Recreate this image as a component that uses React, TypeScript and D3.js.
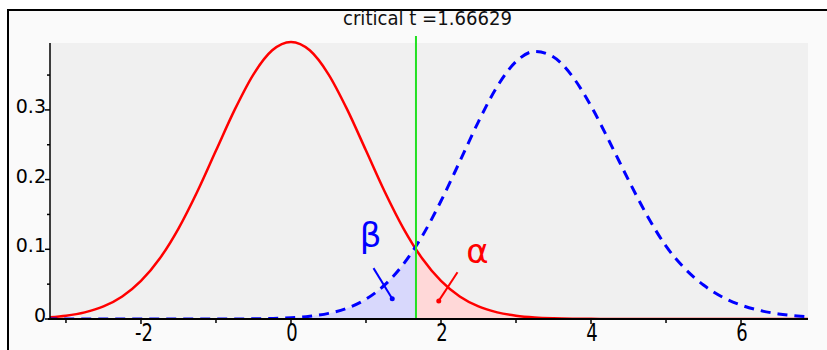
import React from 'react';
import * as d3 from 'd3';

// density values, on a 0.25 grid
const xGrid = [
  -3.25, -3, -2.75, -2.5, -2.25, -2, -1.75, -1.5, -1.25, -1, -0.75, -0.5, -0.25, 0,
  0.25, 0.5, 0.75, 1, 1.25, 1.5, 1.75, 2, 2.25, 2.5, 2.75, 3, 3.25, 3.5,
  3.75, 4, 4.25, 4.5, 4.75, 5, 5.25, 5.5, 5.75, 6, 6.25, 6.5, 6.75, 7,
];
const nullDensity = [
  0.0022, 0.0047, 0.0095, 0.018, 0.0323, 0.0546, 0.0868, 0.1298, 0.1826, 0.2417, 0.3004, 0.3511, 0.3855, 0.3975,
  0.3855, 0.3511, 0.3004, 0.2417, 0.1826, 0.1298, 0.0868, 0.0546, 0.0323, 0.018, 0.0095, 0.0047, 0.0022, 0.001,
  0.0004, 0.0002, 0.0001, 0, 0, 0, 0, 0, 0, 0, 0, 0, 0, 0,
];
const altDensity = [
  0, 0, 0, 0, 0, 0, 0, 0, 0, 0, 0.0001, 0.0003, 0.0008, 0.0018,
  0.0039, 0.0081, 0.0156, 0.0285, 0.0489, 0.0788, 0.1191, 0.1693, 0.2259, 0.2833, 0.3337, 0.3693, 0.3838, 0.3759,
  0.3484, 0.3056, 0.2536, 0.1993, 0.1481, 0.1045, 0.0725, 0.0487, 0.0316, 0.02, 0.0123, 0.0073, 0.0043, 0.0025,
];
const criticalT = 1.66629;
const title = 'critical t =1.66629';

const xMajorTicks = [-2, 0, 2, 4, 6];
const xTickLabels = ['-2', '0', '2', '4', '6'];
const xMinorTicks = [-3, -1, 1, 3, 5];
const yMajorTicks = [0, 0.1, 0.2, 0.3];
const yTickLabels = ['0', '0.1', '0.2', '0.3'];
const yMinorTicks = [0.05, 0.15, 0.25, 0.35];

export default function App() {
  const width = 827;
  const height = 350;
  const plot = { left: 50, right: 808, top: 43, bottom: 319 };
  const font = '"DejaVu Sans", sans-serif';

  const x = d3.scaleLinear().domain([-3.213, 6.893]).range([plot.left, plot.right]);
  const y = d3.scaleLinear().domain([0, 0.396]).range([plot.bottom, plot.top]);

  const pts = (vals: number[]) => xGrid.map((v, i) => [v, vals[i]] as [number, number]);

  const line = d3.line<[number, number]>()
    .x(d => x(d[0]))
    .y(d => y(d[1]))
    .curve(d3.curveMonotoneX);
  const area = d3.area<[number, number]>()
    .x(d => x(d[0]))
    .y0(y(0))
    .y1(d => y(d[1]))
    .curve(d3.curveMonotoneX);

  const xc = x(criticalT);

  return (
    <svg width={width} height={height} style={{ position: 'absolute', left: 0, top: 0 }}>
      <defs>
        <clipPath id="plotClip">
          <rect x={plot.left} y={0} width={plot.right - plot.left} height={plot.bottom} />
        </clipPath>
        <clipPath id="betaClip">
          <rect x={plot.left} y={0} width={xc - plot.left} height={plot.bottom} />
        </clipPath>
        <clipPath id="alphaClip">
          <rect x={xc} y={0} width={plot.right - xc} height={plot.bottom} />
        </clipPath>
      </defs>

      <rect x={0} y={0} width={width} height={height} fill="#ffffff" />
      <rect x={8} y={10} width={width} height={height} fill="#fafafa" />
      <line x1={8} y1={10} x2={width} y2={10} stroke="#000" strokeWidth={2} />
      <line x1={8} y1={9} x2={8} y2={height} stroke="#000" strokeWidth={2} />

      <text x={343} y={25} textLength={169} lengthAdjust="spacingAndGlyphs" fontFamily={font} fontSize={19} fill="#111">
        {title}
      </text>

      <rect x={plot.left} y={plot.top} width={plot.right - plot.left} height={plot.bottom - plot.top} fill="#f0f0f0" />

      <path d={area(pts(altDensity)) || ''} fill="#d8d8fc" clipPath="url(#betaClip)" />
      <path d={area(pts(nullDensity)) || ''} fill="#ffd8d8" clipPath="url(#alphaClip)" />

      <g clipPath="url(#plotClip)" fill="none">
        <path d={line(pts(nullDensity)) || ''} stroke="#ff0000" strokeWidth={2.5} />
        <path d={line(pts(altDensity)) || ''} stroke="#0000ff" strokeWidth={3} strokeDasharray="10,7" />
      </g>

      <line x1={xc} y1={36} x2={xc} y2={plot.bottom} stroke="#22e022" strokeWidth={2} />

      {/* annotations */}
      <text x={x(1.06)} y={y(0.1033)} textAnchor="middle" fontFamily={font} fontSize={34} fill="#0000ff">β</text>
      <line x1={x(1.1)} y1={y(0.073)} x2={x(1.35)} y2={y(0.029)} stroke="#0000ff" strokeWidth={2} />
      <circle cx={x(1.35)} cy={y(0.029)} r={2.5} fill="#0000ff" />
      <text x={x(2.487)} y={y(0.0804)} textAnchor="middle" fontFamily={font} fontSize={34} fill="#ff0000">α</text>
      <line x1={x(2.22)} y1={y(0.067)} x2={x(1.97)} y2={y(0.026)} stroke="#ff0000" strokeWidth={2} />
      <circle cx={x(1.97)} cy={y(0.026)} r={2.5} fill="#ff0000" />

      {/* axes */}
      <line x1={plot.left - 2} y1={plot.bottom} x2={plot.right} y2={plot.bottom} stroke="#000" strokeWidth={2} />
      <line x1={plot.left} y1={plot.top} x2={plot.left} y2={plot.bottom} stroke="#000" strokeWidth={1.5} />

      {xMinorTicks.map(t => (
        <line key={'xm' + t} x1={x(t)} y1={plot.bottom} x2={x(t)} y2={plot.bottom + 4} stroke="#000" strokeWidth={1.5} />
      ))}
      {xMajorTicks.map((t, i) => (
        <g key={'xM' + t}>
          <line x1={x(t)} y1={plot.bottom} x2={x(t)} y2={plot.bottom + 5} stroke="#000" strokeWidth={1.5} />
          <text
            transform={`translate(${x(t) + (t < 0 ? 3 : 1)},${plot.bottom + 22}) scale(1,1.38)`}
            textAnchor="middle"
            fontFamily={font}
            fontSize={18}
            fill="#000"
          >
            {xTickLabels[i]}
          </text>
        </g>
      ))}

      {yMinorTicks.map(t => (
        <line key={'ym' + t} x1={plot.left - 3} y1={y(t)} x2={plot.left} y2={y(t)} stroke="#000" strokeWidth={1.5} />
      ))}
      {yMajorTicks.map((t, i) => (
        <g key={'yM' + t}>
          <line x1={plot.left - 5} y1={y(t)} x2={plot.left} y2={y(t)} stroke="#000" strokeWidth={1.5} />
          <text x={plot.left - 4} y={y(t) + 3} textAnchor="end" fontFamily={font} fontSize={19} fill="#000">
            {yTickLabels[i]}
          </text>
        </g>
      ))}
    </svg>
  );
}
